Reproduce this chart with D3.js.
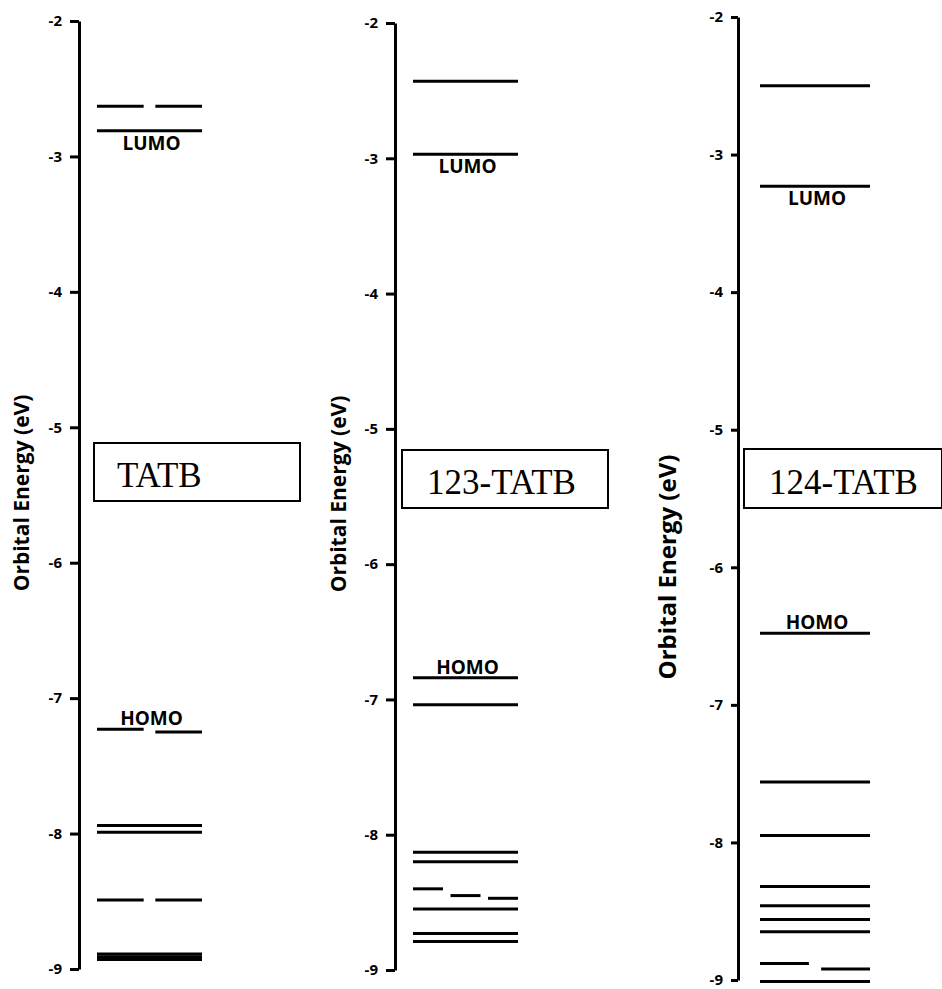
<!DOCTYPE html>
<html>
<head>
<meta charset="utf-8">
<script src="https://cdn.jsdelivr.net/npm/d3@7"></script>
<style>
  body { margin: 0; background: #fff; }
  svg { display: block; }
</style>
</head>
<body>
<div id="chart"></div>
<script>
// energy levels (eV), levels with the same group id sit side by side
var tickValues = [-2, -3, -4, -5, -6, -7, -8, -9];
var moleculeNames = ['TATB', '123-TATB', '124-TATB'];

var tatbEnergy = [-2.63, -2.63, -2.81, -7.23, -7.25, -7.94, -7.99, -8.49, -8.49, -8.89, -8.91, -8.93];
var tatbGroup = [0, 0, 1, 2, 2, 3, 4, 5, 5, 6, 7, 8];

var tatb123Energy = [-2.43, -2.97, -6.84, -7.04, -8.13, -8.20, -8.40, -8.45, -8.47, -8.55, -8.73, -8.79];
var tatb123Group = [0, 1, 2, 3, 4, 5, 6, 6, 6, 7, 8, 9];

var tatb124Energy = [-2.50, -3.23, -6.48, -7.56, -7.95, -8.32, -8.46, -8.56, -8.65, -8.88, -8.92, -9.01];
var tatb124Group = [0, 1, 2, 3, 4, 5, 6, 7, 8, 9, 9, 10];

var lumoEnergy = [-2.81, -2.97, -3.23];
var homoEnergy = [-7.23, -6.84, -6.48];

var axisTitle = 'Orbital Energy (eV)';

// page layout of the three panels
var panels = [
  { energy: tatbEnergy, group: tatbGroup, axisX: 79, top: 21, bottom: 969, x0: 97, x1: 202,
    tickSize: 9, box: [94, 443, 206, 58], nameX: 117, nameY: 487, titleX: 22, titleY: 493, titleSize: 21 },
  { energy: tatb123Energy, group: tatb123Group, axisX: 395, top: 23, bottom: 970, x0: 413, x1: 518,
    tickSize: 9, box: [402, 450, 206, 58], nameX: 427, nameY: 494, titleX: 339, titleY: 494, titleSize: 21 },
  { energy: tatb124Energy, group: tatb124Group, axisX: 738, top: 17, bottom: 980, x0: 760, x1: 870,
    tickSize: 7, box: [744, 449, 198, 59], nameX: 769, nameY: 494, titleX: 668, titleY: 567, titleSize: 24 }
];

var width = 942, height = 989;
var sansFont = '"Open Sans", "DejaVu Sans", sans-serif';

var svg = d3.select('#chart').append('svg')
  .attr('width', width)
  .attr('height', height)
  .style('background', '#fff');

panels.forEach(function (p, i) {
  var g = svg.append('g');

  var y = d3.scaleLinear()
    .domain([-2, -9])
    .range([p.top, p.bottom]);

  // plain hyphen for the minus, as in the original figure
  var yAxis = d3.axisLeft(y)
    .tickValues(tickValues)
    .tickSizeInner(p.tickSize)
    .tickSizeOuter(0)
    .tickPadding(8)
    .tickFormat(function (d) { return String(d); });

  var gy = g.append('g')
    .attr('transform', 'translate(' + p.axisX + ',0)')
    .call(yAxis);
  gy.select('.domain')
    .attr('stroke', '#000')
    .attr('stroke-width', 3);
  gy.selectAll('.tick line')
    .attr('stroke', '#000')
    .attr('stroke-width', 3);
  gy.selectAll('.tick text')
    .attr('fill', '#000')
    .style('font-family', sansFont)
    .style('font-weight', 'bold')
    .style('font-size', '15px');

  // axis title
  g.append('text')
    .attr('transform', 'translate(' + p.titleX + ',' + p.titleY + ') rotate(-90)')
    .attr('text-anchor', 'middle')
    .attr('dy', '0.35em')
    .style('font-family', sansFont)
    .style('font-weight', 'bold')
    .style('font-size', p.titleSize + 'px')
    .text(axisTitle);

  // levels: each group spread over the level width
  var levels = p.energy.map(function (e, k) {
    return { e: e, group: p.group[k] };
  });
  var byGroup = d3.group(levels, function (d) { return d.group; });
  byGroup.forEach(function (members) {
    var x = d3.scaleBand()
      .domain(d3.range(members.length))
      .range([p.x0, p.x1])
      .paddingInner(members.length > 1 ? 0.2 : 0);
    members.forEach(function (d, j) {
      d.xa = x(j);
      d.xb = x(j) + x.bandwidth();
    });
  });

  g.selectAll('.level')
    .data(levels)
    .enter()
    .append('line')
    .attr('class', 'level')
    .attr('x1', function (d) { return d.xa; })
    .attr('x2', function (d) { return d.xb; })
    .attr('y1', function (d) { return y(d.e); })
    .attr('y2', function (d) { return y(d.e); })
    .attr('stroke', '#000')
    .attr('stroke-width', 3);

  var midX = (p.x0 + p.x1) / 2 + 2;
  g.append('text')
    .attr('x', midX)
    .attr('y', y(lumoEnergy[i]) + 19)
    .attr('text-anchor', 'middle')
    .style('font-family', sansFont)
    .style('font-weight', 'bold')
    .style('font-size', '19px')
    .text('LUMO');
  g.append('text')
    .attr('x', midX)
    .attr('y', y(homoEnergy[i]) - 4)
    .attr('text-anchor', 'middle')
    .style('font-family', sansFont)
    .style('font-weight', 'bold')
    .style('font-size', '19px')
    .text('HOMO');

  // molecule name box
  g.append('rect')
    .attr('x', p.box[0])
    .attr('y', p.box[1])
    .attr('width', p.box[2])
    .attr('height', p.box[3])
    .attr('fill', 'none')
    .attr('stroke', '#000')
    .attr('stroke-width', 2);
  g.append('text')
    .attr('x', p.nameX)
    .attr('y', p.nameY)
    .style('font-family', '"Liberation Serif", "Times New Roman", serif')
    .style('font-size', '35px')
    .text(moleculeNames[i]);
});
</script>
</body>
</html>
